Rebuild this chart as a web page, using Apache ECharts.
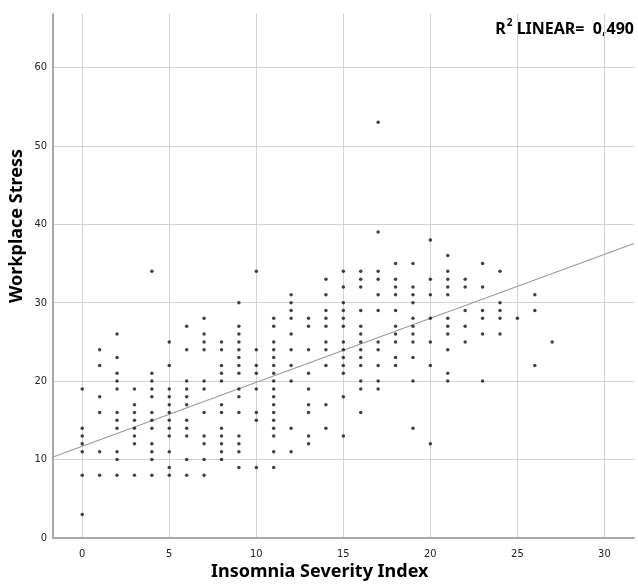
<!DOCTYPE html>
<html>
<head>
<meta charset="utf-8">
<script src="https://cdn.jsdelivr.net/npm/echarts@6/dist/echarts.min.js"></script>
<style>
html, body { margin: 0; padding: 0; background: #fff; }
#chart { width: 638px; height: 587px; }
</style>
</head>
<body>
<div id="chart"></div>
<script>
// ISI score (x) and the stress scores seen in each column
var isiScores = [0, 1, 2, 3, 4, 5, 6, 7, 8, 9, 10, 11, 12, 13, 14, 15, 16, 17, 18, 19, 20, 21, 22, 23, 24, 25, 26, 27];
var stressByIsi = [
    [19, 14, 13, 12, 11, 8, 3],
    [24, 22, 18, 16, 11, 8],
    [26, 23, 21, 20, 19, 16, 15, 14, 11, 10, 8],
    [19, 17, 16, 15, 14, 13, 12, 8],
    [34, 21, 20, 19, 18, 16, 15, 14, 12, 11, 10, 8],
    [25, 22, 19, 18, 17, 16, 15, 14, 13, 11, 9, 8],
    [27, 24, 20, 19, 18, 17, 15, 14, 13, 10, 8],
    [28, 26, 25, 24, 20, 19, 16, 13, 12, 10, 8],
    [25, 24, 22, 21, 20, 17, 16, 14, 13, 12, 11, 10],
    [30, 27, 26, 25, 24, 23, 22, 21, 19, 18, 16, 13, 12, 11, 9],
    [34, 24, 22, 21, 19, 16, 15, 9],
    [28, 27, 25, 24, 23, 22, 21, 20, 19, 18, 17, 16, 15, 14, 13, 11, 9],
    [31, 30, 29, 28, 26, 24, 22, 20, 14, 11],
    [28, 27, 24, 21, 19, 17, 16, 13, 12],
    [33, 31, 29, 28, 27, 25, 24, 22, 17, 14],
    [34, 32, 30, 29, 28, 27, 25, 24, 23, 22, 21, 18, 13],
    [34, 33, 32, 29, 27, 26, 25, 24, 23, 22, 20, 19, 16],
    [53, 39, 34, 33, 31, 29, 25, 24, 22, 20, 19],
    [35, 33, 32, 31, 29, 27, 26, 25, 23, 22],
    [35, 32, 31, 30, 28, 27, 26, 25, 23, 20, 14],
    [38, 33, 31, 28, 25, 22, 12],
    [36, 34, 33, 32, 31, 28, 27, 26, 24, 21, 20],
    [33, 32, 29, 27, 25],
    [35, 32, 29, 28, 26, 20],
    [34, 30, 29, 28, 26],
    [28],
    [31, 29, 22],
    [25]
];
var xTicks = [0, 5, 10, 15, 20, 25, 30];
var yTicks = [0, 10, 20, 30, 40, 50, 60];
var xRange = [-1.68, 31.7];
var yRange = [0, 66.8];
var fitIntercept = 11.7;
var fitSlope = 0.815;
var rSquared = '0,490';

var points = [];
isiScores.forEach(function (isi, i) {
    stressByIsi[i].forEach(function (v) {
        points.push([isi, v]);
    });
});
var fitLine = xRange.map(function (x) {
    return [x, fitIntercept + fitSlope * x];
});

var tickFont = "'Liberation Sans Narrow', 'DejaVu Sans Condensed', 'Liberation Sans', sans-serif";

var myChart = echarts.init(document.getElementById('chart'));
var option = {
    animation: false,
    grid: {
        left: 53,
        right: 4,
        top: 14,
        bottom: 49
    },
    xAxis: {
        type: 'value',
        min: xRange[0],
        max: xRange[1],
        splitNumber: 7,
        axisLine: {
            show: true,
            onZero: false,
            lineStyle: { color: '#a8a8a8', width: 2 }
        },
        axisTick: { show: false },
        axisLabel: {
            color: '#222',
            fontFamily: tickFont,
            fontSize: 11,
            margin: 11,
            showMinLabel: false,
            showMaxLabel: false,
            formatter: function (v) {
                return xTicks.indexOf(v) >= 0 ? String(v) : '';
            }
        },
        splitLine: {
            show: true,
            showMinLine: false,
            showMaxLine: false,
            lineStyle: { color: '#d2d2d2', width: 1 }
        }
    },
    yAxis: {
        type: 'value',
        min: yRange[0],
        max: yRange[1],
        interval: 10,
        axisLine: {
            show: true,
            onZero: false,
            lineStyle: { color: '#a8a8a8', width: 2 }
        },
        axisTick: { show: false },
        axisLabel: {
            color: '#222',
            fontFamily: tickFont,
            fontSize: 11,
            margin: 6,
            showMaxLabel: false,
            formatter: function (v) {
                return yTicks.indexOf(v) >= 0 ? String(v) : '';
            }
        },
        splitLine: {
            show: true,
            showMinLine: false,
            showMaxLine: false,
            lineStyle: { color: '#d2d2d2', width: 1 }
        }
    },
    graphic: [{
        type: 'text',
        left: 211,
        top: 563,
        style: {
            text: 'Insomnia Severity Index',
            font: 'bold 18px "Noto Sans"',
            fill: '#000'
        }
    }, {
        type: 'text',
        x: 8,
        y: 303,
        rotation: Math.PI / 2,
        style: {
            text: 'Workplace Stress',
            font: 'bold 18px "Noto Sans"',
            fill: '#000'
        }
    }, {
        type: 'text',
        right: 4,
        top: 18,
        style: {
            text: '{b|R}{s|2}{b| LINEAR=  ' + rSquared + '}',
            rich: {
                b: { font: 'bold 16px "Noto Sans"', fill: '#000', verticalAlign: 'bottom' },
                s: { font: 'bold 10px "Noto Sans"', fill: '#000', verticalAlign: 'top', padding: [0, 0, 9, 1] }
            }
        }
    }],
    series: [{
        name: 'Workplace Stress',
        type: 'scatter',
        symbol: 'circle',
        symbolSize: 3.5,
        itemStyle: { color: '#111' },
        data: points,
        z: 3
    }, {
        name: 'Linear fit',
        type: 'line',
        symbol: 'none',
        silent: true,
        lineStyle: { color: '#9a9a9a', width: 1.2 },
        data: fitLine,
        z: 2
    }]
};
myChart.setOption(option);
window.addEventListener('resize', function () {
    myChart.resize();
});
</script>
</body>
</html>
